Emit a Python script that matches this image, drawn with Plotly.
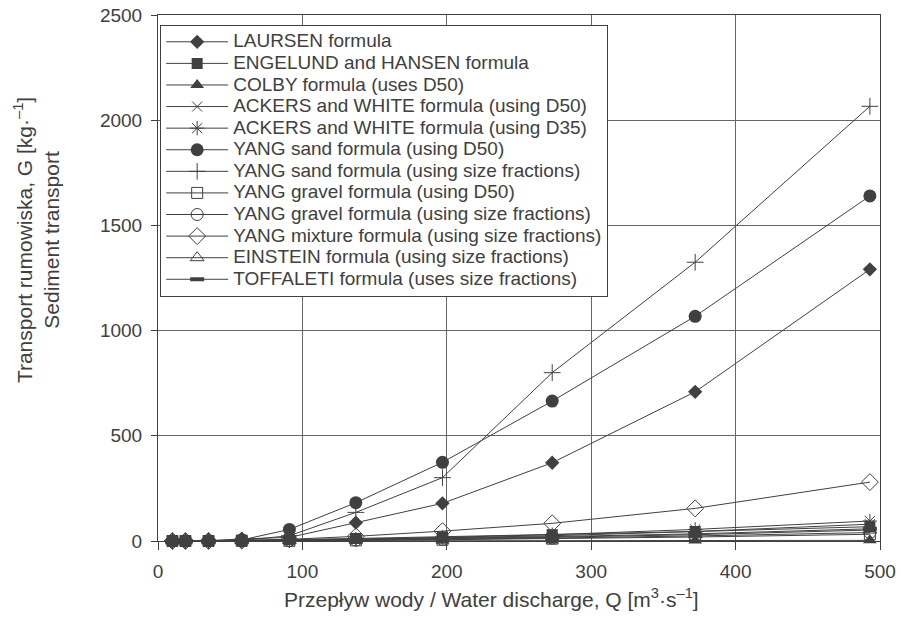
import plotly.graph_objects as go

# ---- data ----
Q = [10, 19, 35, 58, 91, 137, 197, 273, 372, 493]

laursen = [0, 0, 1, 10, 17, 87, 179, 372, 709, 1291]
engelund = [0.5, 1, 2, 4, 7, 12, 20, 30, 45, 68]
colby = [0, 0, 0, 0.5, 1, 1, 1.5, 2, 2, 3]
ackers_d50 = [0, 0, 0.5, 1, 3, 7, 14, 25, 45, 80]
ackers_d35 = [0, 0, 0.5, 1.5, 4, 9, 17, 30, 55, 95]
yang_sand_d50 = [0, 0, 1, 5, 55, 182, 374, 665, 1068, 1640]
yang_sand_sf = [0, 0, 0.5, 3, 25, 136, 301, 800, 1325, 2066]
yang_gravel_d50 = [0, 0, 0, 0.5, 1, 3, 6, 11, 19, 32]
yang_gravel_sf = [0, 0, 0, 0.5, 1.5, 4, 8, 14, 24, 40]
yang_mixture = [0, 0, 0.5, 2, 8, 22, 47, 84, 155, 280]
einstein = [0, 0, 0.5, 1, 2, 5, 10, 18, 30, 52]
toffaleti = [0, 0, 0.5, 1, 3, 6, 12, 21, 34, 58]

names = [
    "LAURSEN formula",
    "ENGELUND and HANSEN formula",
    "COLBY formula (uses D50)",
    "ACKERS and WHITE formula (using D50)",
    "ACKERS and WHITE formula (using D35)",
    "YANG sand formula (using D50)",
    "YANG sand formula (using size fractions)",
    "YANG gravel formula (using D50)",
    "YANG gravel formula (using size fractions)",
    "YANG mixture formula (using size fractions)",
    "EINSTEIN formula (using size fractions)",
    "TOFFALETI formula (uses size fractions)",
]
series = [laursen, engelund, colby, ackers_d50, ackers_d35, yang_sand_d50,
          yang_sand_sf, yang_gravel_d50, yang_gravel_sf, yang_mixture,
          einstein, toffaleti]

DARK = "#404040"
styles = [
    dict(symbol="diamond", size=11, line=dict(width=0)),
    dict(symbol="square", size=11, line=dict(width=0)),
    dict(symbol="triangle-up", size=12, line=dict(width=0)),
    dict(symbol="x-thin-open", size=10, line=dict(width=1, color=DARK)),
    dict(symbol="asterisk-open", size=12, line=dict(width=1, color=DARK)),
    dict(symbol="circle", size=13, line=dict(width=0)),
    dict(symbol="cross-thin-open", size=12, line=dict(width=1, color=DARK)),
    dict(symbol="square-open", size=11, line=dict(width=1, color=DARK)),
    dict(symbol="circle-open", size=12, line=dict(width=1, color=DARK)),
    dict(symbol="diamond-open", size=13, line=dict(width=1, color=DARK)),
    dict(symbol="triangle-up-open", size=12, line=dict(width=1, color=DARK)),
    dict(symbol="line-ew-open", size=10, line=dict(width=4, color=DARK)),
]

fig = go.Figure()
for i, (nm, ys, st) in enumerate(zip(names, series, styles)):
    fig.add_trace(go.Scatter(
        x=Q, y=ys, mode="lines+markers",
        name=f'<span style="font-size:19px">{nm}</span>',
        line=dict(color=DARK, width=1),
        marker=dict(color=DARK, **st),
        cliponaxis=False,
        legendgroup=f"g{i}",
    ))

FONT = "Liberation Sans, Arial, sans-serif"

fig.update_layout(
    width=901, height=620,
    margin=dict(l=158, r=21, t=15, b=79),
    paper_bgcolor="white", plot_bgcolor="white",
    font=dict(family=FONT, color=DARK, size=19),
    showlegend=True,
    legend=dict(
        x=0.003, y=0.981, xanchor="left", yanchor="top",
        bgcolor="white", bordercolor=DARK, borderwidth=1,
        font=dict(family=FONT, size=14.3, color=DARK),
        itemwidth=62, tracegroupgap=0,
    ),
    xaxis=dict(
        range=[0, 500], tickmode="linear", tick0=0, dtick=100,
        showgrid=True, gridcolor="#666666", gridwidth=1,
        showline=True, linecolor=DARK, linewidth=1, mirror=True,
        ticks="outside", ticklen=8, tickcolor=DARK,
        zeroline=False, tickfont=dict(size=19),
        automargin=False, ticklabelstandoff=5,
    ),
    yaxis=dict(
        range=[0, 2500], tickmode="linear", tick0=0, dtick=500,
        showgrid=True, gridcolor="#666666", gridwidth=1,
        showline=True, linecolor=DARK, linewidth=1, mirror=True,
        ticks="outside", ticklen=6, tickcolor=DARK,
        zeroline=False, tickfont=dict(size=19),
        automargin=False, ticklabelstandoff=5,
    ),
    annotations=[
        dict(text="Transport rumowiska, G [kg·<sup>–1</sup>]<br>Sediment transport",
             xref="paper", yref="paper", x=-0.169, y=0.572,
             xanchor="center", yanchor="middle", textangle=-90,
             showarrow=False, font=dict(size=21, color=DARK)),
        dict(text="Przepływ wody / Water discharge, Q [m<sup>3</sup>·s<sup>–1</sup>]",
             xref="paper", yref="paper", x=(491 - 158) / 722, y=-(598 - 541) / 526,
             xanchor="center", yanchor="middle",
             showarrow=False, font=dict(size=21, color=DARK)),
    ],
)

fig.write_html("out.html")
